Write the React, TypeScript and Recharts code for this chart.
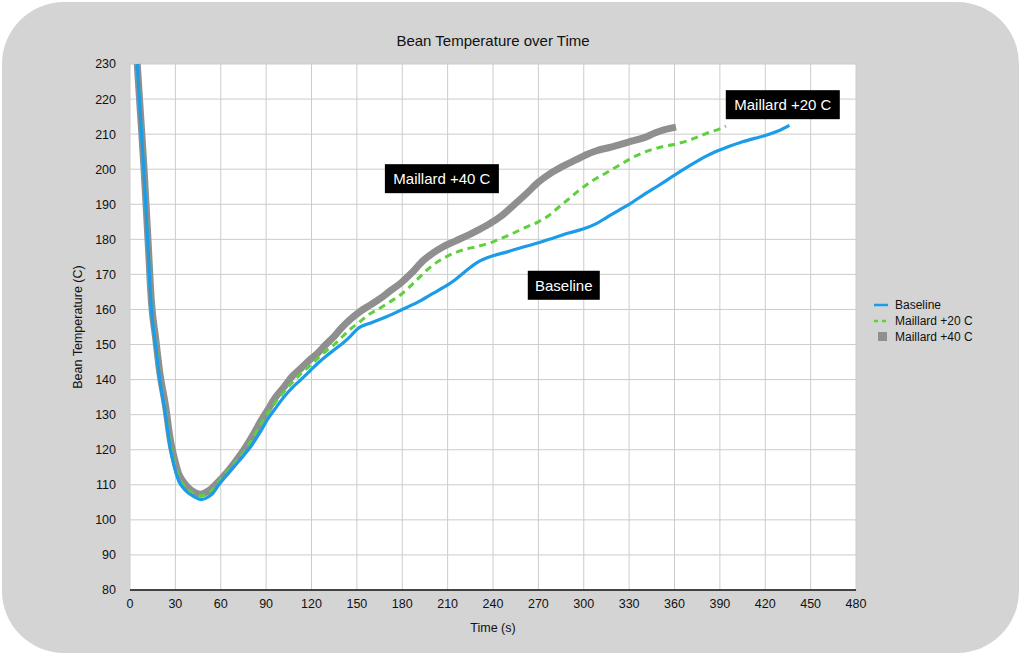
import React from 'react';
import {
  LineChart,
  Line,
  XAxis,
  YAxis,
  CartesianGrid,
  Legend,
  ReferenceDot,
} from 'recharts';

const xTicks = [0, 30, 60, 90, 120, 150, 180, 210, 240, 270, 300, 330, 360, 390, 420, 450, 480];
const yTicks = [80, 90, 100, 110, 120, 130, 140, 150, 160, 170, 180, 190, 200, 210, 220, 230];

const baselineTime = [4.8, 6.9, 9.1, 12, 14.2, 16.9, 19.7, 23.5, 26.8, 29.5, 32.3, 35, 37.8, 42, 47, 52, 55, 58.7, 62, 69, 75, 80, 86, 91, 97, 102, 108, 113, 119, 124, 130, 135, 141, 146, 150, 160, 170, 180, 190, 200, 210, 215, 222, 230, 240, 250, 260, 270, 280, 290, 300, 308, 315, 322, 330, 340, 350, 360, 370, 380, 387, 395, 405, 413, 420, 428, 436];
const baselineTemp = [230, 215, 200, 177, 160, 150, 140, 130, 120, 114.8, 111, 109.2, 107.9, 106.7, 105.8, 106.6, 107.7, 110, 111.9, 115.3, 118.3, 121, 125, 128.7, 132.3, 135.2, 138, 140, 142.5, 144.6, 146.8, 148.5, 150.5, 152.5, 154.3, 156.3, 158, 160, 162, 164.5, 167, 168.5, 171, 173.5, 175.3, 176.5, 177.8, 179, 180.4, 181.8, 183, 184.4, 186.2, 188, 190, 192.8, 195.5, 198.3, 201, 203.5, 205, 206.3, 207.8, 208.8, 209.6, 210.8, 212.5];

const m20Time = [4.8, 6.9, 9.1, 12, 14.2, 16.9, 19.7, 23.5, 26.8, 29.5, 32.3, 35, 37.8, 42, 47, 52, 55, 58.7, 62, 69, 75, 80, 86, 91, 97, 102, 108, 113, 119, 124, 130, 135, 141, 146, 152, 157, 165, 172, 179, 185, 191, 197, 203, 209, 215, 222, 230, 240, 252, 262, 270, 276, 283, 290, 297, 305, 315, 325, 333, 341, 350, 361, 370, 376, 383, 390, 394];
const m20Temp = [230, 215.5, 200.5, 178, 161, 151, 141, 131.3, 121.3, 116, 112, 110.1, 108.7, 107.5, 106.9, 107.7, 108.7, 110.8, 112.6, 116, 119.2, 122.5, 127, 130.5, 134, 136.7, 139.5, 141.7, 144, 146, 148.3, 150, 152.5, 154.5, 156.5, 158.3, 160.3, 162.2, 164.2, 166.5, 169, 171.5, 173.5, 175, 176.2, 177.2, 178, 179.3, 181.5, 183.5, 185, 186.5, 189, 191.5, 194, 196.5, 199, 201.5, 203.5, 205, 206.2, 207.2, 208.3, 209.3, 210.5, 211.5, 212.3];

const m40Time = [4.8, 6.9, 9.1, 12, 14.2, 16.9, 19.7, 23.5, 26.8, 29.5, 32.3, 35, 37.8, 42, 46.5, 52, 57.6, 63, 68.6, 75, 82, 86, 91, 96, 102, 107, 113, 118, 124, 129, 135, 140, 146, 152, 159, 166, 172, 179, 186, 194, 200, 207.5, 215, 224, 231.7, 238, 245, 253, 262, 270, 278, 286, 295, 302, 308, 318, 330, 340, 347, 353, 361];
const m40Temp = [230, 216, 201.5, 179, 162, 152, 142, 132.5, 122.5, 117.2, 113, 111, 109.5, 108, 107.3, 108.3, 110.5, 113, 116, 119.8, 124.7, 127.8, 131.3, 134.8, 138, 140.8, 143.2, 145.3, 147.5, 149.8, 152.3, 154.8, 157.3, 159.4, 161.3, 163.3, 165.3, 167.5, 170.3, 174, 176, 178, 179.5, 181.3, 183, 184.5, 186.5, 189.5, 193, 196.3, 198.8, 200.8, 202.7, 204.2, 205.2, 206.3, 207.8, 209, 210.3, 211.2, 212];

const annotationLabels = ['Maillard +40 C', 'Maillard +20 C', 'Baseline'];
const annotationTime = [206.2, 431.6, 286.8];
const annotationTemp = [197.3, 218.4, 166.9];

const toPoints = (ts: number[], vs: number[]) => ts.map((t, i) => ({ t, v: vs[i] }));
const baselineData = toPoints(baselineTime, baselineTemp);
const m20Data = toPoints(m20Time, m20Temp);
const m40Data = toPoints(m40Time, m40Temp);

const FONT = '"Liberation Sans", Arial, Helvetica, sans-serif';
const BLUE = '#1c9ce8';
const GREEN = '#5cd13c';
const GRAY = '#8f8f8f';

const AnnotationBox = (label: string) => (props: any) => {
  const { cx, cy } = props;
  if (cx == null || cy == null) return null;
  const w = label.length * 7 + 16;
  const h = 29;
  return (
    <g>
      <rect x={cx - w / 2} y={cy - h / 2} width={w} height={h} fill="#000" />
      <text
        x={cx}
        y={cy}
        textAnchor="middle"
        dominantBaseline="central"
        fill="#fff"
        fontSize={15}
        fontFamily={FONT}
      >
        {label}
      </text>
    </g>
  );
};

const LegendContent = () => {
  const items = [
    { name: 'Baseline', kind: 'line' },
    { name: 'Maillard +20 C', kind: 'dash' },
    { name: 'Maillard +40 C', kind: 'square' },
  ];
  return (
    <div style={{ fontFamily: FONT, fontSize: 12, color: '#111' }}>
      {items.map((it) => (
        <div key={it.name} style={{ display: 'flex', alignItems: 'center', height: 16 }}>
          <svg width={20} height={12} style={{ marginRight: 2 }}>
            {it.kind === 'line' && <line x1={1} y1={6} x2={15} y2={6} stroke={BLUE} strokeWidth={2.5} />}
            {it.kind === 'dash' && (
              <line x1={1} y1={6} x2={16} y2={6} stroke={GREEN} strokeWidth={2.5} strokeDasharray="4 4" />
            )}
            {it.kind === 'square' && <rect x={5} y={1} width={9} height={9} fill={GRAY} />}
          </svg>
          <span>{it.name}</span>
        </div>
      ))}
    </div>
  );
};

export default function App() {
  return (
    <div style={{ position: 'absolute', left: 0, top: 0, width: 1024, height: 657, background: '#fff' }}>
      <div
        style={{
          position: 'absolute',
          left: 2,
          top: 2,
          width: 1017,
          height: 651,
          background: '#d4d4d4',
          borderRadius: 62,
        }}
      />
      <div
        style={{
          position: 'absolute',
          left: 0,
          top: 32,
          width: 986,
          textAlign: 'center',
          fontFamily: FONT,
          fontSize: 15,
          color: '#111',
        }}
      >
        Bean Temperature over Time
      </div>
      <div style={{ position: 'absolute', left: 0, top: 0 }}>
        <LineChart
          width={1024}
          height={657}
          margin={{ top: 64, right: 168, bottom: 37, left: 70 }}
        >
          <CartesianGrid
            fill="#ffffff"
            horizontal={{ stroke: '#d6d6d6', strokeWidth: 1.3 }}
            vertical={{ stroke: '#b4b4b4', strokeWidth: 1.3 }}
            horizontalValues={yTicks}
            verticalValues={xTicks}
          />
          <XAxis
            dataKey="t"
            type="number"
            domain={[0, 480]}
            ticks={xTicks}
            allowDataOverflow
            height={30}
            tickLine={false}
            tickSize={0}
            tickMargin={9}
            axisLine={{ stroke: '#111', strokeWidth: 1.5 }}
            tick={{ fill: '#111', fontSize: 12.5, fontFamily: FONT }}
            label={{ value: 'Time (s)', position: 'insideBottom', offset: -12, fill: '#111', fontSize: 12.5, fontFamily: FONT }}
          />
          <YAxis
            type="number"
            domain={[80, 230]}
            ticks={yTicks}
            width={60}
            tickLine={false}
            tickSize={0}
            tickMargin={14}
            axisLine={false}
            tick={{ fill: '#111', fontSize: 12.5, fontFamily: FONT }}
            label={{
              value: 'Bean Temperature (C)',
              angle: -90,
              position: 'insideLeft',
              offset: 8,
              style: { textAnchor: 'middle' },
              fill: '#111',
              fontSize: 12.5,
              fontFamily: FONT,
            }}
          />
          <Legend
            layout="vertical"
            verticalAlign="middle"
            align="center"
            content={LegendContent}
            wrapperStyle={{ left: 873, top: 297, width: 140 }}
          />
          <Line
            data={m40Data}
            dataKey="v"
            name="Maillard +40 C"
            type="monotone"
            stroke={GRAY}
            strokeWidth={7}
            dot={false}
            isAnimationActive={false}
          />
          <Line
            data={m20Data}
            dataKey="v"
            name="Maillard +20 C"
            type="monotone"
            stroke={GREEN}
            strokeWidth={3}
            strokeDasharray="7 5"
            dot={false}
            isAnimationActive={false}
          />
          <Line
            data={baselineData}
            dataKey="v"
            name="Baseline"
            type="monotone"
            stroke={BLUE}
            strokeWidth={3.2}
            dot={false}
            isAnimationActive={false}
          />
          {annotationLabels.map((label, i) => (
            <ReferenceDot
              key={label}
              x={annotationTime[i]}
              y={annotationTemp[i]}
              r={0}
              ifOverflow="visible"
              shape={AnnotationBox(label)}
            />
          ))}
        </LineChart>
      </div>
    </div>
  );
}
